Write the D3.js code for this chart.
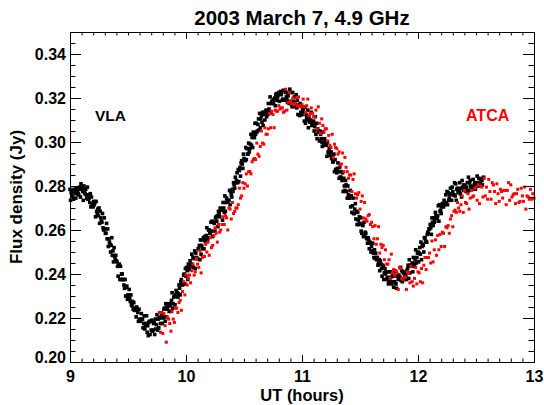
<!DOCTYPE html>
<html><head><meta charset="utf-8">
<script src="https://cdn.jsdelivr.net/npm/d3@7/dist/d3.min.js"></script>
<style>
html,body{margin:0;padding:0;background:#fff;}
svg{display:block;}
text{font-family:"Liberation Sans",Arial,Helvetica,sans-serif;font-weight:bold;}
</style></head><body>
<svg id="chart" width="544" height="405"></svg>
<script>
const titleText = "2003 March 7, 4.9 GHz";
const xLabel = "UT (hours)";
const yLabel = "Flux density (Jy)";
const seriesNames = ["VLA", "ATCA"];
const seriesColors = ["#000000", "#ff0000"];
const xTicks = [9, 10, 11, 12, 13];
const yTicks = [0.20, 0.22, 0.24, 0.26, 0.28, 0.30, 0.32, 0.34];
const yTickLabels = ["0.20", "0.22", "0.24", "0.26", "0.28", "0.30", "0.32", "0.34"];

// VLA samples: start UT and sampling interval (hours), fluxes in mJy
const vlaStartUT = 9.0;
const vlaStepUT = 0.005;
const vlaFluxMJy = [
278.5,273.5,277,277.5,275.5,278,274,278.5,277.5,276.5,
274.5,279,279,277.5,276.5,276,278.5,279.5,275,281,
279.5,278.5,277.5,273.5,280,277,276.5,278.5,276,274.5,
279.5,274,276,274.5,272.5,276.5,270.5,275,272,271.5,
270.5,273,271.5,272.5,266,273,268.5,267.5,269.5,266.5,
270,263,268.5,265.5,264,263.5,267.5,261,260,265.5,
260.5,258.5,258.5,263,256,260.5,252.5,256,254.5,253.5,
250,253,256.5,248.5,250.5,245.5,252,248,246.5,248.5,
246,245.5,243.5,239,244,244.5,237.5,243.5,237.5,240,
240,237.5,237.5,235,233.5,237.5,230,234,234.5,228.5,
230.5,229.5,233,229,227.5,230.5,226,225.5,227.5,224,
227,223.5,223.5,224.5,220.5,225,224,222.5,218.5,224,
219.5,218.5,219,222,219.5,219.5,215.5,217.5,221,215,
216.5,217.5,221,213.5,216.5,212,218,218.5,212.5,218.5,
214.5,219,214,214.5,217.5,218,212.5,219.5,215,217,
221.5,214.5,219.5,215.5,220,220,217.5,220.5,221,217.5,
220.5,220,224,224.5,218.5,226.5,220.5,225,224,225.5,
226.5,223,225.5,226.5,223,228,231.5,224.5,226.5,229.5,
230,226,230.5,232.5,231,231.5,229.5,231,235,233.5,
230.5,236.5,237.5,236,235,235.5,239.5,240,235.5,242.5,
239,243,241.5,237.5,244.5,243.5,242,246,244.5,244.5,
249,243.5,247.5,243,247,250.5,242.5,249.5,247.5,247,
247,251.5,251.5,253,246.5,255.5,249,253,255.5,251.5,
256.5,251.5,257,255,255.5,257.5,261,255.5,256.5,260,
260,258.5,258.5,263.5,259.5,264,257,263.5,263.5,263,
259.5,265.5,266,264,266.5,261.5,268.5,267.5,266,270,
269.5,269.5,269,264.5,272.5,270,268,275.5,268.5,272.5,
274.5,273,273,273.5,273.5,278,271.5,277.5,276,275,
278.5,277.5,281.5,280.5,279,284,281.5,282.5,286,281.5,
287.5,282,287,288.5,284.5,290.5,291.5,290,288,294.5,
292.5,292,291.5,297.5,292,297,294.5,294.5,299.5,295.5,
297,299,303.5,298.5,302,297.5,304.5,303,302,308.5,
303.5,308.5,304.5,305,308,310.5,305.5,313,306.5,310.5,
312,309,313.5,307.5,312.5,313.5,310,313,314.5,311.5,
314,312.5,317.5,315,313,320.5,313.5,317.5,318.5,318,
319,317.5,319.5,320,316.5,321.5,322,319,320.5,321.5,
322.5,318.5,322,323,321.5,322.5,319,319.5,323.5,319,
319,323.5,322.5,320.5,319.5,318,321,322.5,317.5,324,
318.5,322.5,317,316,322.5,318.5,316.5,320.5,318,316,
321.5,315.5,319,312.5,316.5,317,312,317.5,313.5,312.5,
312.5,315,314,315.5,309.5,316,308.5,312.5,311,310,
314.5,306.5,311.5,309.5,309,310,313.5,307.5,308,308.5,
309.5,305,307,311.5,303.5,308.5,301.5,306,305,304.5,
300.5,305,303.5,301.5,300,298,304.5,299.5,298.5,301.5,
300,299,298.5,293.5,300,295.5,294.5,297,294,295.5,
295.5,292.5,293.5,291,291,294.5,286.5,292,287.5,287.5,
286,288,290.5,286.5,283.5,288.5,284,284,286.5,282.5,
286,277.5,283.5,280,278,282.5,280.5,277.5,274.5,280,
276,274.5,274.5,278,270.5,275.5,268,271,274.5,267.5,
267.5,269.5,272,265,268.5,262.5,268,264.5,262.5,266,
263,265.5,259.5,258.5,262.5,262,257,263.5,257.5,259,
258.5,256.5,256,254,256.5,255.5,251.5,254.5,254,250,
252.5,250.5,254,249.5,247.5,251,247,249.5,247.5,246.5,
247.5,244,245,246.5,241.5,246,244.5,242.5,239,244,
243.5,237.5,240.5,242.5,240,241,237.5,238.5,241,235.5,
236.5,238,241,238.5,236.5,235.5,239.5,239,234,241.5,
236.5,241,235.5,233.5,239,239,237.5,239.5,238.5,238.5,
243,237,241.5,236.5,241,240.5,237.5,240,240,239.5,
237.5,241.5,242.5,244,238,246.5,240.5,244,243.5,243.5,
245,241,247.5,243.5,244.5,246.5,251,245,247.5,249.5,
250,245.5,249.5,252,249,254.5,246.5,252.5,253.5,253,
250,256.5,256.5,255,254.5,254.5,258,259,258.5,260.5,
260.5,262.5,261,258,265.5,263.5,262,265.5,263.5,264,
268,266.5,265.5,265.5,266.5,271,264,271.5,268.5,269,
267.5,270.5,272,272,270.5,273.5,271.5,272.5,276,272,
277.5,271.5,277,273.5,274.5,276,279,276.5,273.5,279.5,
277.5,276,276,281.5,275.5,281,273.5,278.5,279,277,
277.5,277.5,281.5,276.5,279,275,282.5,279.5,278,280.5,
279.5,280,278,277.5,279.5,281.5,277.5,284,278,281.5,
282.5,280,279.5,278.5,279,283,279.5,280.5,281.5,278.5,
281,280,284.5,281.5,280,283.5,280.5,281,283,282.5,
282.5,280.5,283.5,284
];

// ATCA samples: start UT and sampling interval (hours), fluxes in mJy
const atcaStartUT = 9.77;
const atcaStepUT = 0.01;
const atcaFluxMJy = [
222.5,213.5,222.5,
213,222,216.5,209,220.5,
219.5,217.5,214,223,219.5,
218,224.5,224.5,222.5,227,
228,223.5,232,236.5,230.5,
239.5,235,238,239.5,236,
241.5,244.5,239.5,241,247,
244.5,243,250.5,240.5,247.5,
248,248,253.5,250,254.5,
248.5,256.5,252,253,257.5,
261,258.5,254.5,262.5,259,
260,262.5,266,262.5,266.5,
265.5,260,270,269.5,265,
272.5,267.5,268.5,270,270,
271.5,279,274.5,275.5,281.5,
279,281,285.5,280,286.5,
286.5,285.5,291,292,292.5,
292,299.5,294.5,293.5,298,
305,299.5,299,306.5,303.5,
303.5,306,313,306.5,314,
312.5,306.5,314.5,314,314,
316.5,315,315.5,315.5,313.5,
314,324,314.5,318,322.5,
318.5,317.5,320,317,317.5,
320,316.5,320.5,316.5,316,
317,319.5,316,313.5,316.5,
319.5,312,313,315.5,313,
311.5,311.5,314.5,306,316,
308.5,304,310.5,307.5,304.5,
306,306,300.5,303,298.5,
297.5,303.5,293,299,297.5,
297,294.5,295.5,289.5,290,
295,286.5,293,288.5,286.5,
283.5,285,285,277.5,283,
285.5,276.5,274.5,276,277,
269.5,273,275.5,265.5,272.5,
265,264,266.5,267,262.5,
263.5,261.5,256,262,253.5,
256,261.5,249.5,253.5,252,
253,246.5,251,244.5,244.5,
246.5,238,249,240.5,242,
239.5,241.5,240.5,233,243,
242.5,238,237.5,238.5,238.5,
233,241,240.5,236,243.5,
236.5,234.5,238,243,235.5,
241,240.5,236.5,242.5,236,
244,247.5,242,247.5,247.5,
249.5,245,255,245.5,251,
255.5,248.5,257.5,251,258,
252.5,259,258.5,252.5,261.5,
261,262,258.5,265,266.5,
261.5,268.5,269,268,272.5,
270,268.5,271.5,275.5,268,
278,272.5,272,276.5,269.5,
274.5,278,275,275.5,279,
279.5,273.5,280.5,272,280,
279.5,275,283.5,275.5,279.5,
274,283,277.5,274,281.5,
280.5,277.5,272,281,276.5,
273,278.5,277.5,274.5,278,
278,271.5,278,281.5,273.5,
280.5,275,276,276.5,272,
276.5,278.5,272.5,273,279,
275.5,273,279.5,269.5,275.5,
275,274,278.5,274,276.5,
274.5
];

const W = 544, H = 405;
const L = 70, R = 534, T = 32, B = 362;
const svg = d3.select("#chart");
svg.append("rect").attr("width", W).attr("height", H).attr("fill", "#fff");

const x = d3.scaleLinear().domain([9, 13]).range([L, R]);
const y = d3.scaleLinear().domain([0.20, 0.35]).range([B, T]);

const vla = vlaFluxMJy.map((f, i) => ({t: vlaStartUT + i * vlaStepUT, v: f / 1000}));
const atca = atcaFluxMJy.map((f, i) => ({t: atcaStartUT + i * atcaStepUT, v: f / 1000}));

const plot = svg.append("g");
function drawPoints(data, color, size) {
  plot.append("g").attr("fill", color)
    .selectAll("rect").data(data).join("rect")
    .attr("x", d => x(d.t) - size / 2)
    .attr("y", d => y(d.v) - size / 2)
    .attr("width", size).attr("height", size);
}
drawPoints(vla, seriesColors[0], 3.6);
drawPoints(atca, seriesColors[1], 3.0);

// frame
svg.append("rect").attr("x", L + 0.5).attr("y", T + 0.5)
  .attr("width", R - L).attr("height", B - T)
  .attr("fill", "none").attr("stroke", "#000").attr("stroke-width", 1);

const xMinor = d3.range(9.1, 12.95, 0.1).filter(v => Math.abs(v - Math.round(v)) > 0.01);
const yMinor = d3.range(0.205, 0.349, 0.005).filter(v => Math.abs(v * 50 - Math.round(v * 50)) > 0.01);

function styleAxis(g, fs) {
  g.select(".domain").remove();
  g.attr("font-family", null).attr("font-size", fs);
  g.selectAll("line").attr("stroke", "#000");
}
// bottom
const gxb = svg.append("g").attr("transform", `translate(0,${B})`)
  .call(d3.axisBottom(x).tickValues(xTicks).tickSize(-7).tickSizeOuter(0).tickPadding(8.6).tickFormat(d3.format("d")));
styleAxis(gxb, 16);
const gxbm = svg.append("g").attr("transform", `translate(0,${B})`)
  .call(d3.axisBottom(x).tickValues(xMinor).tickSize(-3.5).tickSizeOuter(0).tickFormat(""));
styleAxis(gxbm, 16);
// top
const gxt = svg.append("g").attr("transform", `translate(0,${T})`)
  .call(d3.axisTop(x).tickValues(xTicks).tickSize(-7).tickSizeOuter(0).tickFormat(""));
styleAxis(gxt, 16);
const gxtm = svg.append("g").attr("transform", `translate(0,${T})`)
  .call(d3.axisTop(x).tickValues(xMinor).tickSize(-3.5).tickSizeOuter(0).tickFormat(""));
styleAxis(gxtm, 16);
// left
const gyl = svg.append("g").attr("transform", `translate(${L},0)`)
  .call(d3.axisLeft(y).tickValues(yTicks).tickSize(-11).tickSizeOuter(0).tickPadding(4)
    .tickFormat((d, i) => yTickLabels[i]));
styleAxis(gyl, 16);
gyl.selectAll("text").attr("dy", (d, i) => i === 0 ? "0em" : "0.36em");
const gylm = svg.append("g").attr("transform", `translate(${L},0)`)
  .call(d3.axisLeft(y).tickValues(yMinor).tickSize(-5.5).tickSizeOuter(0).tickFormat(""));
styleAxis(gylm, 16);
// right
const gyr = svg.append("g").attr("transform", `translate(${R},0)`)
  .call(d3.axisRight(y).tickValues(yTicks).tickSize(-11).tickSizeOuter(0).tickFormat(""));
styleAxis(gyr, 16);
const gyrm = svg.append("g").attr("transform", `translate(${R},0)`)
  .call(d3.axisRight(y).tickValues(yMinor).tickSize(-5.5).tickSizeOuter(0).tickFormat(""));
styleAxis(gyrm, 16);

// titles
svg.append("text").attr("x", (L + R) / 2).attr("y", 24.5).attr("text-anchor", "middle")
  .attr("font-size", 20.5).text(titleText);
svg.append("text").attr("x", (L + R) / 2).attr("y", 401).attr("text-anchor", "middle")
  .attr("font-size", 16.5).text(xLabel);
svg.append("text").attr("transform", `translate(22,${(T + B) / 2}) rotate(-90)`)
  .attr("text-anchor", "middle").attr("font-size", 17).text(yLabel);

// series labels
svg.append("text").attr("x", 95).attr("y", 121).attr("font-size", 15.5)
  .attr("fill", seriesColors[0]).text(seriesNames[0]);
svg.append("text").attr("x", 466).attr("y", 121).attr("font-size", 16)
  .attr("fill", seriesColors[1]).text(seriesNames[1]);
</script>
</body></html>
